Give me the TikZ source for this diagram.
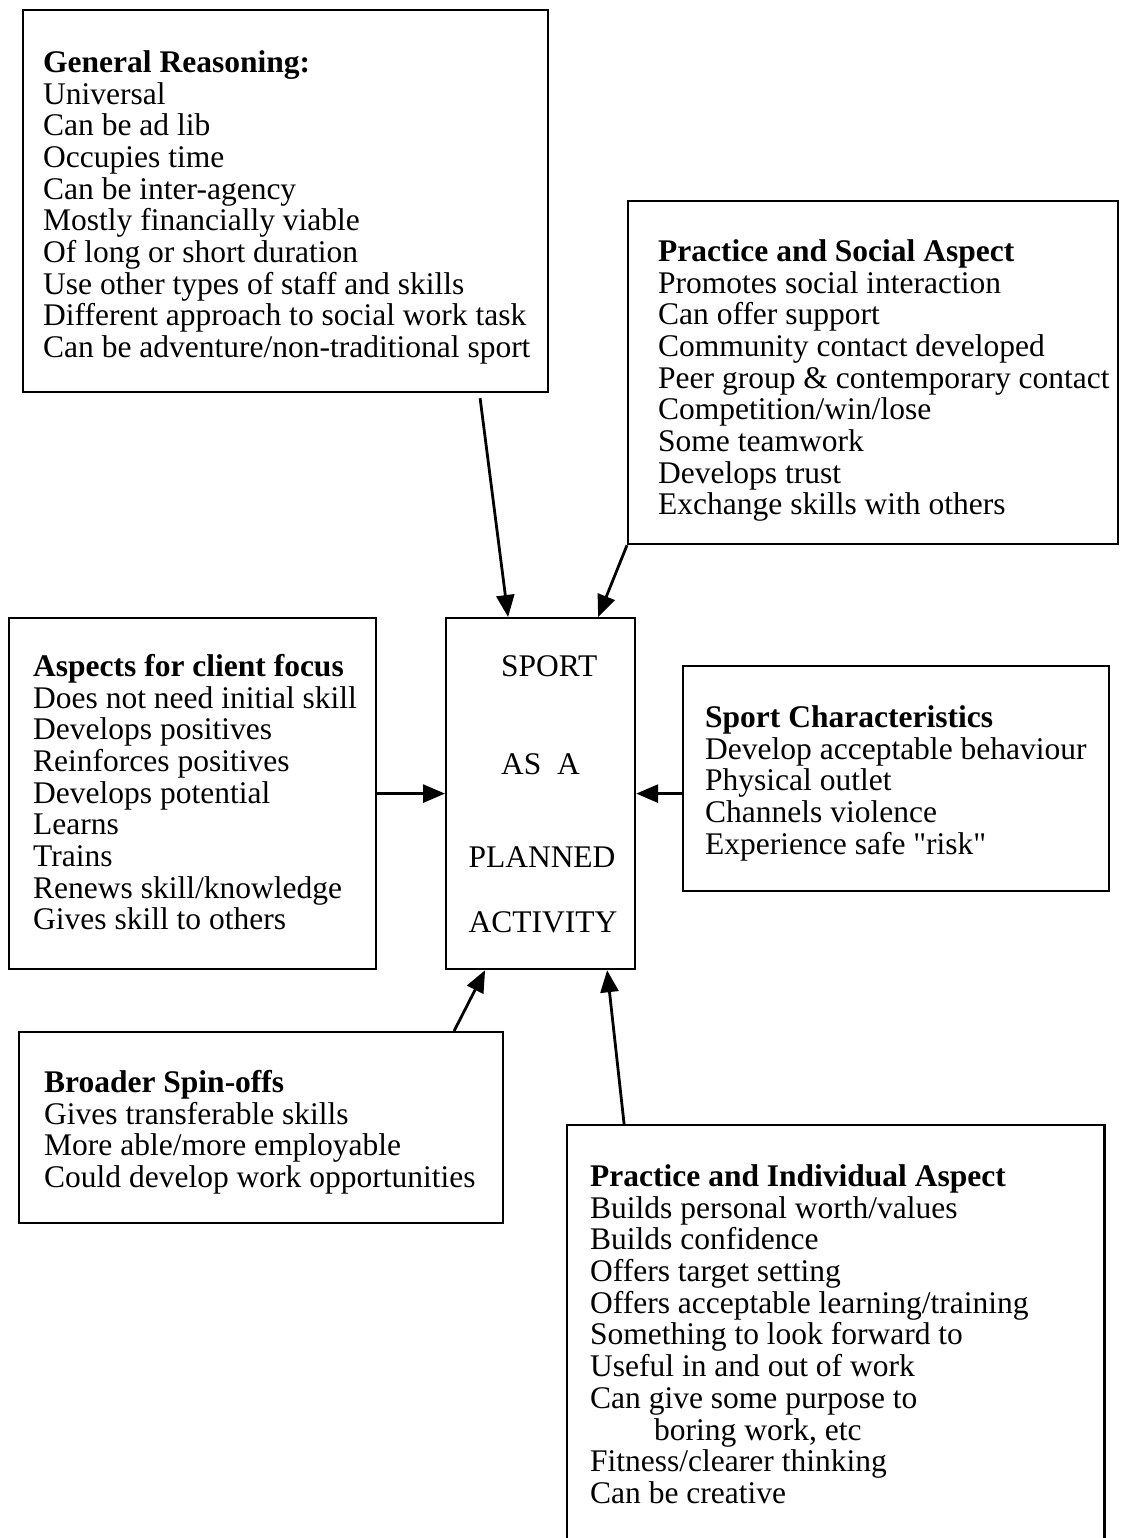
\documentclass[tikz,border=0pt]{standalone}
\usepackage{fontspec}
\setmainfont{Liberation Serif}[Ligatures=TeXOff]
\usetikzlibrary{arrows.meta}
\begin{document}
\begin{tikzpicture}[x=1pt,y=-1pt,
  boxst/.style={draw, line width=2.2pt, inner sep=0pt, anchor=north west},
  txt/.style={inner sep=0pt, anchor=north west, align=left, font=\fontsize{31.5}{31.7}\selectfont},
  ctxt/.style={inner sep=0pt, font=\fontsize{31.5}{31.7}\selectfont},
  arr/.style={line width=2.8pt, -{Triangle[length=22pt,width=18pt]}}]
\useasboundingbox (0,0) rectangle (1120,1538);
\clip (0,0) rectangle (1120,1538);
\fill[white] (0,0) rectangle (1120,1538);

% boxes
\node[boxst, minimum width=525pt, minimum height=382pt] (gen) at (22,9) {};
\node[boxst, minimum width=490pt, minimum height=343pt] (soc) at (627,200) {};
\node[boxst, minimum width=367pt, minimum height=351pt] (lft) at (8,617) {};
\node[boxst, minimum width=189pt, minimum height=351pt] (ctr) at (445,617) {};
\node[boxst, minimum width=426pt, minimum height=225pt] (sc) at (682,665) {};
\node[boxst, minimum width=484pt, minimum height=191pt] (bro) at (18,1031) {};
\node[inner sep=0pt, anchor=north west, minimum width=537pt, minimum height=430pt] (pia) at (567,1125) {};
\draw[line width=2.2pt] (pia.south west) -- (pia.north west) -- (pia.north east) -- (pia.south east);

% texts
\node[txt] (gent) at (43,50) {\strut\textbf{General Reasoning:}\\
Universal\\
Can be ad lib\\
Occupies time\\
Can be inter-agency\\
Mostly financially viable\\
Of long or short duration\\
Use other types of staff and skills\\
Different approach to social work task\\
Can be adventure/non-traditional sport};

\node[txt] (soct) at (658,239) {\strut\textbf{Practice and Social Aspect}\\
Promotes social interaction\\
Can offer support\\
Community contact developed\\
Peer group \& contemporary contact\\
Competition/win/lose\\
Some teamwork\\
Develops trust\\
Exchange skills with others};

\node[txt] (lftt) at (33,654) {\strut\textbf{Aspects for client focus}\\
Does not need initial skill\\
Develops positives\\
Reinforces positives\\
Develops potential\\
Learns\\
Trains\\
Renews skill/knowledge\\
Gives skill to others};

\node[txt] (sct) at (705,705) {\strut\textbf{Sport Characteristics}\\
Develop acceptable behaviour\\
Physical outlet\\
Channels violence\\
Experience safe "risk"};

\node[txt] (brot) at (44,1070) {\strut\textbf{Broader Spin-offs}\\
Gives transferable skills\\
More able/more employable\\
Could develop work opportunities};

\node[txt] (piat) at (590,1164) {\strut\textbf{Practice and Individual Aspect}\\
Builds personal worth/values\\
Builds confidence\\
Offers target setting\\
Offers acceptable learning/training\\
Something to look forward to\\
Useful in and out of work\\
Can give some purpose to\\
\hspace*{64pt}boring work, etc\\
Fitness/clearer thinking\\
Can be creative};

% centre texts
\node[ctxt, anchor=base west] (c1) at (501,676) {SPORT};
\node[ctxt, anchor=base west] (c2) at (501,774) {AS\ \ A};
\node[ctxt, anchor=base] (c3) at (542,867) {PLANNED};
\node[ctxt, anchor=base] (c4) at (543,932) {ACTIVITY};

% arrows
\draw[arr] ([xshift=194.5pt,yshift=-5pt]gen.south) -- ([xshift=-32.5pt]ctr.north);
\draw[arr] (soc.south west) -- ([xshift=57.5pt]ctr.north);
\draw[arr] (lft.east) -- (ctr.west);
\draw[arr] (sc.west |- ctr.east) -- (ctr.east);
\draw[arr] ([xshift=193pt]bro.north) -- ([xshift=-55.5pt]ctr.south);
\draw[arr] ([xshift=-211.5pt]pia.north) -- ([xshift=66.5pt]ctr.south);
\end{tikzpicture}
\end{document}
